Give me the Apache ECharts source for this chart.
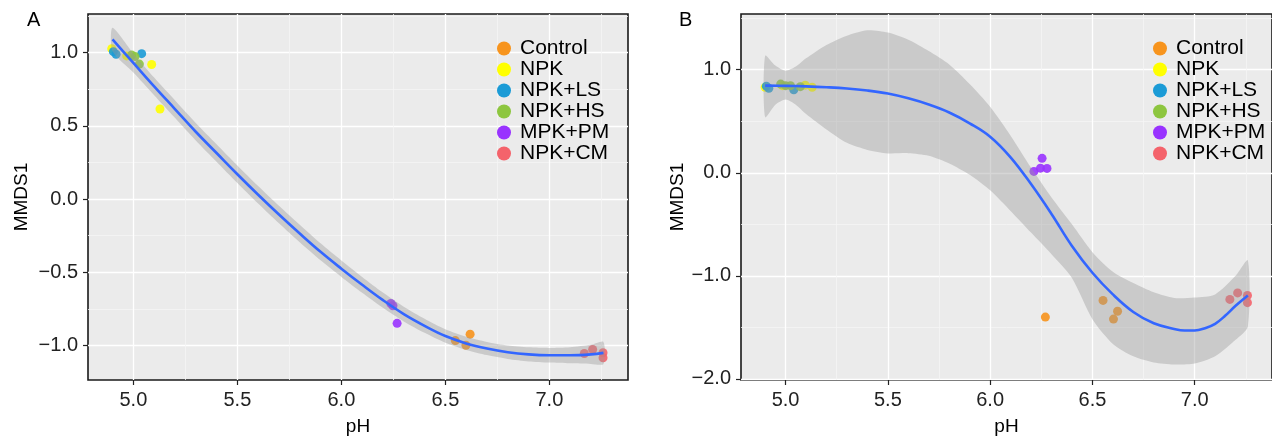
<!DOCTYPE html>
<html>
<head>
<meta charset="utf-8">
<script src="https://cdn.jsdelivr.net/npm/echarts@6/dist/echarts.min.js"></script>
<style>
html,body{margin:0;padding:0;background:#fff;}
#chart{width:1272px;height:441px;}
</style>
</head>
<body>
<div id="chart"></div>
<script>
// ---------- data ----------
const categories = ['Control', 'NPK', 'NPK+LS', 'NPK+HS', 'MPK+PM', 'NPK+CM'];

// Panel A points [pH, MMDS1]
const ptsA_Control = [[6.548, -0.966], [6.599, -0.998], [6.619, -0.922]];
const ptsA_NPK     = [[4.896, 1.027], [4.968, 0.978], [5.088, 0.919], [5.128, 0.615]];
const ptsA_NPKLS   = [[4.904, 1.007], [4.917, 0.989], [5.040, 0.993]];
const ptsA_NPKHS   = [[4.992, 0.984], [5.008, 0.973], [5.029, 0.922]];
const ptsA_MPKPM   = [[6.238, -0.713], [6.248, -0.728], [6.268, -0.848]];
const ptsA_NPKCM   = [[7.168, -1.054], [7.208, -1.027], [7.258, -1.049], [7.258, -1.083]];

// Panel B points [pH, MMDS1]
const ptsB_Control = [[6.270, -1.400], [6.552, -1.238], [6.603, -1.419], [6.623, -1.343]];
const ptsB_NPK     = [[4.900, 0.830], [4.985, 0.845], [5.096, 0.850], [5.130, 0.830]];
const ptsB_NPKLS   = [[4.906, 0.840], [4.918, 0.820], [5.040, 0.805]];
const ptsB_NPKHS   = [[4.976, 0.860], [5.000, 0.845], [5.024, 0.845], [5.072, 0.835]];
const ptsB_MPKPM   = [[6.214, 0.013], [6.246, 0.045], [6.254, 0.140], [6.278, 0.042]];
const ptsB_NPKCM   = [[7.172, -1.228], [7.210, -1.165], [7.258, -1.190], [7.258, -1.260]];

// Fitted curves and confidence bands
const fitA_x  = [4.90, 5.00, 5.10, 5.20, 5.30, 5.40, 5.50, 5.60, 5.70, 5.80, 5.90, 6.00, 6.10, 6.20, 6.30, 6.40, 6.50, 6.60, 6.70, 6.80, 6.90, 7.00, 7.10, 7.20, 7.26];
const fitA_y  = [1.09, 0.93, 0.77, 0.615, 0.46, 0.315, 0.17, 0.03, -0.105, -0.235, -0.36, -0.475, -0.585, -0.69, -0.785, -0.865, -0.935, -0.985, -1.02, -1.045, -1.06, -1.066, -1.066, -1.06, -1.05];
const bandA_lo = [1.01, 0.865, 0.71, 0.555, 0.40, 0.255, 0.11, -0.03, -0.165, -0.295, -0.418, -0.531, -0.639, -0.742, -0.835, -0.913, -0.981, -1.03, -1.065, -1.091, -1.108, -1.116, -1.121, -1.125, -1.125];
const bandA_hi = [1.17, 0.995, 0.83, 0.675, 0.52, 0.375, 0.23, 0.09, -0.045, -0.175, -0.302, -0.419, -0.531, -0.638, -0.735, -0.817, -0.889, -0.94, -0.975, -0.999, -1.012, -1.016, -1.011, -0.995, -0.975];

const fitB_x  = [4.90, 5.00, 5.10, 5.20, 5.30, 5.40, 5.50, 5.60, 5.70, 5.80, 5.90, 6.00, 6.10, 6.20, 6.30, 6.40, 6.50, 6.60, 6.70, 6.80, 6.90, 6.95, 7.00, 7.05, 7.10, 7.15, 7.20, 7.26];
const fitB_y  = [0.845, 0.843, 0.838, 0.830, 0.818, 0.798, 0.768, 0.722, 0.662, 0.585, 0.48, 0.35, 0.15, -0.11, -0.40, -0.71, -0.97, -1.18, -1.35, -1.46, -1.515, -1.530, -1.530, -1.508, -1.465, -1.385, -1.29, -1.19];
const bandB_x  = [4.90, 4.95, 5.00, 5.05, 5.10, 5.20, 5.30, 5.40, 5.50, 5.60, 5.70, 5.80, 5.90, 6.00, 6.10, 6.20, 6.30, 6.40, 6.50, 6.60, 6.70, 6.80, 6.90, 7.00, 7.10, 7.20, 7.26];
const bandB_lo = [0.54, 0.66, 0.71, 0.66, 0.57, 0.42, 0.29, 0.222, 0.188, 0.19, 0.165, 0.09, -0.02, -0.17, -0.37, -0.58, -0.79, -1.02, -1.42, -1.66, -1.78, -1.84, -1.86, -1.85, -1.78, -1.62, -1.49];
const bandB_hi = [1.135, 1.04, 0.99, 1.03, 1.11, 1.24, 1.33, 1.382, 1.36, 1.29, 1.18, 1.05, 0.86, 0.64, 0.36, 0.05, -0.24, -0.50, -0.77, -0.96, -1.07, -1.16, -1.215, -1.21, -1.18, -1.0, -0.85];

// Axis ticks
const xTicks      = [5.0, 5.5, 6.0, 6.5, 7.0];
const xMinorTicks = [5.25, 5.75, 6.25, 6.75, 7.25];
const yTicksA      = [-1.0, -0.5, 0.0, 0.5, 1.0];
const yMinorTicksA = [-0.75, -0.25, 0.25, 0.75, 1.25];
const yTicksB      = [-2.0, -1.0, 0.0, 1.0];
const yMinorTicksB = [-1.5, -0.5, 0.5, 1.5];

// ---------- styling ----------
const colors = ['#F7941D', '#FFFF00', '#1B9BD6', '#8DC63F', '#9933FF', '#F4636B'];
const FONT = 'Liberation Sans, Arial, Helvetica, sans-serif';
const ptsA = [ptsA_Control, ptsA_NPK, ptsA_NPKLS, ptsA_NPKHS, ptsA_MPKPM, ptsA_NPKCM];
const ptsB = [ptsB_Control, ptsB_NPK, ptsB_NPKLS, ptsB_NPKHS, ptsB_MPKPM, ptsB_NPKCM];

const X_MIN = 4.782, X_MAX = 7.378;
const fmt = v => (v < 0 ? '\u2212' : '') + Math.abs(v).toFixed(1);

function majorX(gridIndex) {
  return {
    type: 'value', gridIndex, min: X_MIN, max: X_MAX, position: 'bottom',
    name: 'pH', nameLocation: 'middle', nameGap: 37,
    nameTextStyle: { fontFamily: FONT, fontSize: 19, color: '#000' },
    axisLine: { show: false, onZero: false },
    axisTick: { show: true, length: 5, lineStyle: { color: '#222', width: 1.2 }, customValues: xTicks },
    axisLabel: { show: true, margin: 10, fontFamily: FONT, fontSize: 20, color: '#222', formatter: fmt, customValues: xTicks },
    splitLine: { show: true, lineStyle: { color: '#FFFFFF', width: 1.3 } }
  };
}
function minorX(gridIndex) {
  return {
    type: 'value', gridIndex, min: X_MIN, max: X_MAX, position: 'bottom',
    axisLine: { show: false, onZero: false },
    axisTick: { show: false, customValues: xMinorTicks },
    axisLabel: { show: false, customValues: xMinorTicks },
    splitLine: { show: true, lineStyle: { color: '#F5F5F5', width: 0.8 } }
  };
}
function majorY(gridIndex, min, max, ticks, gap) {
  return {
    type: 'value', gridIndex, min, max, position: 'left',
    name: 'MMDS1', nameLocation: 'middle', nameGap: gap,
    nameTextStyle: { fontFamily: FONT, fontSize: 19, color: '#000' },
    axisLine: { show: false, onZero: false },
    axisTick: { show: true, length: 5, lineStyle: { color: '#222', width: 1.2 }, customValues: ticks },
    axisLabel: { show: true, margin: 10, fontFamily: FONT, fontSize: 20, color: '#222', formatter: fmt, customValues: ticks },
    splitLine: { show: true, lineStyle: { color: '#FFFFFF', width: 1.3 } }
  };
}
function minorY(gridIndex, min, max, ticks) {
  return {
    type: 'value', gridIndex, min, max, position: 'left',
    axisLine: { show: false, onZero: false },
    axisTick: { show: false, customValues: ticks },
    axisLabel: { show: false, customValues: ticks },
    splitLine: { show: true, lineStyle: { color: '#F5F5F5', width: 0.8 } }
  };
}

function pointSeries(pts, xi, yi) {
  return pts.map((d, i) => ({
    name: categories[i], type: 'scatter', xAxisIndex: xi, yAxisIndex: yi,
    data: d, symbol: 'circle', symbolSize: 9, z: 2,
    itemStyle: { color: colors[i], opacity: 0.9 },
    emphasis: { disabled: true }, silent: true
  }));
}
function bandSeries(xs, lo, hi, xi, yi) {
  return {
    type: 'custom', xAxisIndex: xi, yAxisIndex: yi, z: 3, silent: true, clip: true,
    data: xs.map((x, i) => [x, lo[i], hi[i]]),
    encode: { x: 0, y: [1, 2] },
    renderItem: function (params, api) {
      if (params.dataIndex !== 0) return null;
      const pts = [];
      for (let i = 0; i < xs.length; i++) pts.push(api.coord([xs[i], hi[i]]));
      for (let i = xs.length - 1; i >= 0; i--) pts.push(api.coord([xs[i], lo[i]]));
      return {
        type: 'polygon',
        shape: { points: pts, smooth: 0.25 },
        style: { fill: 'rgba(153,153,153,0.4)', stroke: null }
      };
    }
  };
}
function fitSeries(xs, ys, xi, yi) {
  return { type: 'line', xAxisIndex: xi, yAxisIndex: yi, data: xs.map((x, i) => [x, ys[i]]),
    smooth: 0.4, symbol: 'none', lineStyle: { color: '#3366FF', width: 2.6 }, z: 4, silent: true };
}
function legendAt(left) {
  return {
    data: categories, orient: 'vertical', left, top: 33, icon: 'circle',
    itemWidth: 22, itemHeight: 14, itemGap: 0, selectedMode: false,
    itemStyle: { opacity: 1 },
    textStyle: { fontFamily: FONT, fontSize: 21, lineHeight: 21, color: '#000' }
  };
}

const chart = echarts.init(document.getElementById('chart'), null, { renderer: 'canvas' });
chart.setOption({
  animation: false,
  backgroundColor: '#ffffff',
  title: [
    { text: 'A', left: 27, top: 10, padding: 0, textStyle: { fontFamily: FONT, fontSize: 20, fontWeight: 'normal', color: '#000' } },
    { text: 'B', left: 679, top: 10, padding: 0, textStyle: { fontFamily: FONT, fontSize: 20, fontWeight: 'normal', color: '#000' } }
  ],
  legend: [legendAt(492), legendAt(1148)],
  grid: [
    { left: 88, top: 14, width: 540, height: 372, show: true, backgroundColor: '#EBEBEB', borderColor: '#1a1a1a', borderWidth: 1.6 },
    { left: 741, top: 14, width: 542, height: 372, show: true, backgroundColor: '#EBEBEB', borderColor: '#1a1a1a', borderWidth: 1.6 }
  ],
  xAxis: [majorX(0), minorX(0), majorX(1), minorX(1)],
  yAxis: [
    majorY(0, -1.235, 1.264, yTicksA, 57),
    minorY(0, -1.235, 1.264, yMinorTicksA),
    majorY(1, -2.01, 1.54, yTicksB, 53),
    minorY(1, -2.01, 1.54, yMinorTicksB)
  ],
  series: [].concat(
    pointSeries(ptsA, 0, 0),
    [bandSeries(fitA_x, bandA_lo, bandA_hi, 0, 0)],
    [fitSeries(fitA_x, fitA_y, 0, 0)],
    pointSeries(ptsB, 2, 2),
    [bandSeries(bandB_x, bandB_lo, bandB_hi, 2, 2)],
    [fitSeries(fitB_x, fitB_y, 2, 2)]
  )
});
</script>
</body>
</html>
